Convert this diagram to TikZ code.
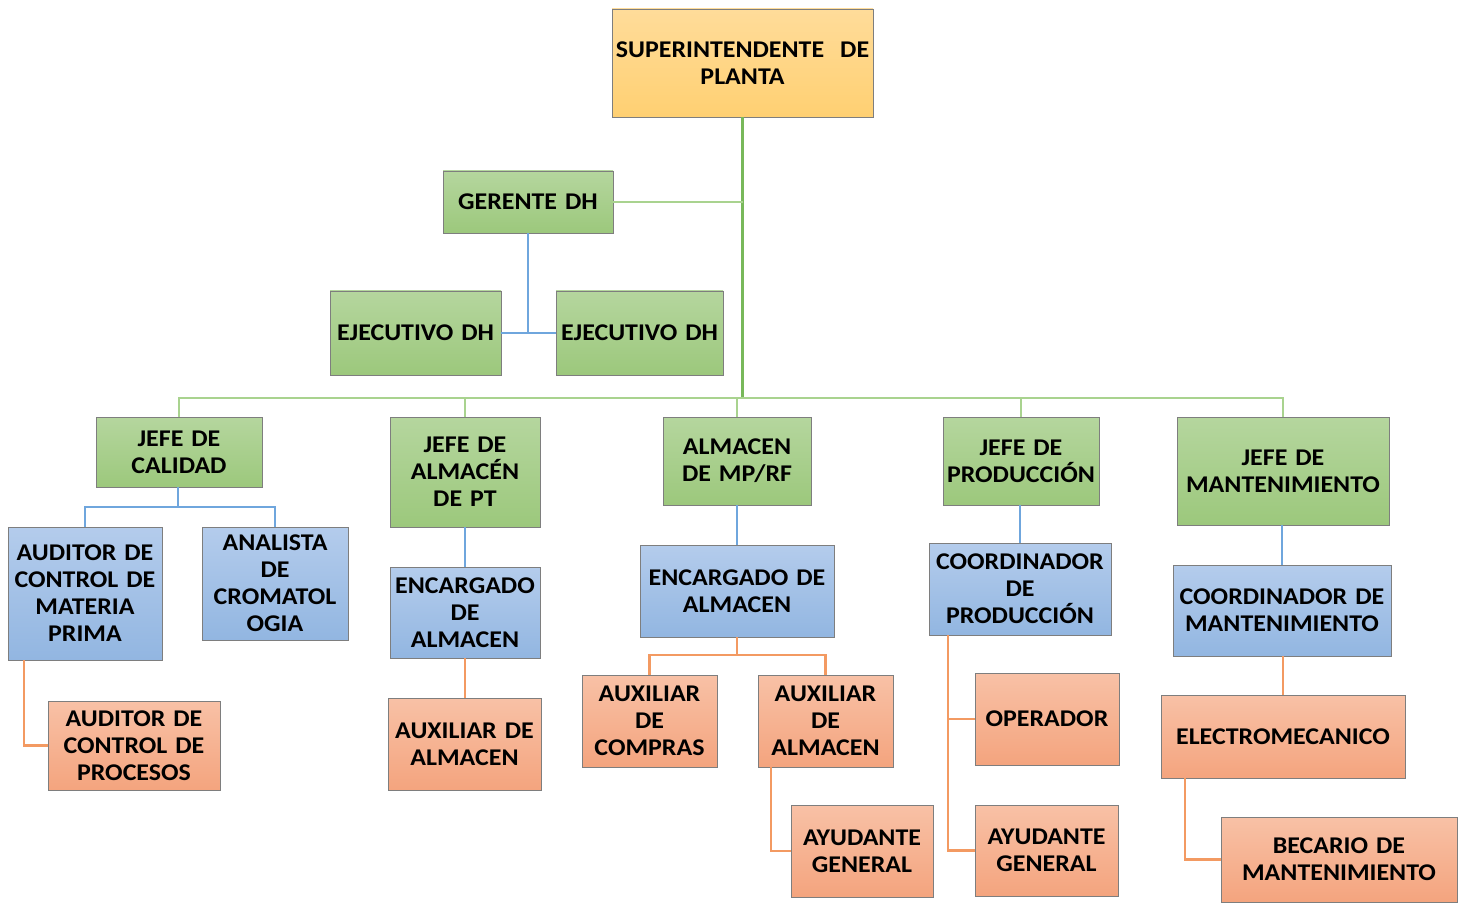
\documentclass[tikz,border=0pt]{standalone}
\usepackage{fontspec}
\setmainfont{Carlito}[FakeStretch=1.08]
\usetikzlibrary{shadows}

\definecolor{goldT}{HTML}{FFDC9A}
\definecolor{goldB}{HTML}{FFD072}
\definecolor{greenT}{HTML}{B5D69E}
\definecolor{greenB}{HTML}{9CC87C}
\definecolor{blueT}{HTML}{B4CCEC}
\definecolor{blueB}{HTML}{92B6E1}
\definecolor{orangeT}{HTML}{F8C1A6}
\definecolor{orangeB}{HTML}{F4A47E}
\definecolor{edge}{HTML}{7E7E7E}
\definecolor{lnGreen}{HTML}{78B85A}
\definecolor{lnGreenL}{HTML}{A9D38F}
\definecolor{lnBlue}{HTML}{6FA6DD}
\definecolor{lnOrange}{HTML}{F39A62}

\tikzset{
  orgbase/.style={draw=edge, line width=0.8pt, inner sep=0pt, align=center,
    font=\fontsize{24}{27}\selectfont\bfseries,
    drop shadow={shadow xshift=1.2pt, shadow yshift=-1.2pt, opacity=0.25, fill=black}},
  goldbox/.style={orgbase, top color=goldT, bottom color=goldB},
  greenbox/.style={orgbase, top color=greenT, bottom color=greenB},
  bluebox/.style={orgbase, top color=blueT, bottom color=blueB},
  orangebox/.style={orgbase, top color=orangeT, bottom color=orangeB},
  gline/.style={draw=lnGreen, line width=2.6pt},
  glineL/.style={draw=lnGreenL, line width=2.6pt},
  bline/.style={draw=lnBlue, line width=2.2pt},
  oline/.style={draw=lnOrange, line width=2.2pt},
}

% \orgbox{name}{style}{x1}{y1}{x2}{y2}{text}
\newcommand{\orgbox}[7]{%
  \pgfmathsetmacro{\obW}{#5-#3}%
  \pgfmathsetmacro{\obH}{#6-#4}%
  \pgfmathsetmacro{\obT}{#5-#3-2}%
  \node[#2, minimum width=\obW pt, minimum height=\obH pt, text width=\obT pt]
    (#1) at ({(#3+#5)/2},{(#4+#6)/2}) {#7};%
}

\begin{document}
\begin{tikzpicture}[x=1pt, y=-1pt]
\useasboundingbox (0,0) rectangle (1460,904);

% top levels
\orgbox{sup}{goldbox}{612}{9}{873}{117}{SUPERINTENDENTE\ \ DE\\PLANTA}
\orgbox{ger}{greenbox}{443}{171}{613}{233}{GERENTE DH}
\orgbox{ejl}{greenbox}{330}{291}{501}{375}{EJECUTIVO DH}
\orgbox{ejr}{greenbox}{556}{291}{723}{375}{EJECUTIVO DH}

% department heads
\orgbox{cal}{greenbox}{96}{417}{262}{487}{JEFE DE\\CALIDAD}
\orgbox{apt}{greenbox}{390}{417}{540}{527}{JEFE DE\\ALMACÉN\\DE PT}
\orgbox{amp}{greenbox}{663}{417}{811}{505}{ALMACEN\\DE MP/RF}
\orgbox{prd}{greenbox}{943}{417}{1099}{505}{JEFE DE\\PRODUCCIÓN}
\orgbox{mnt}{greenbox}{1177}{417}{1389}{525}{JEFE DE\\MANTENIMIENTO}

% second level
\orgbox{amat}{bluebox}{8}{527}{162}{660}{AUDITOR DE\\CONTROL DE\\MATERIA\\PRIMA}
\orgbox{ana}{bluebox}{202}{527}{348}{640}{ANALISTA\\DE\\CROMATOL\\OGIA}
\orgbox{ept}{bluebox}{390}{567}{540}{658}{ENCARGADO\\DE\\ALMACEN}
\orgbox{emp}{bluebox}{640}{545}{834}{637}{ENCARGADO DE\\ALMACEN}
\orgbox{cpr}{bluebox}{929}{543}{1111}{635}{COORDINADOR\\DE\\PRODUCCIÓN}
\orgbox{cmt}{bluebox}{1173}{565}{1391}{656}{COORDINADOR DE\\MANTENIMIENTO}

% third level
\orgbox{apro}{orangebox}{48}{701}{220}{790}{AUDITOR DE\\CONTROL DE\\PROCESOS}
\orgbox{xpt}{orangebox}{388}{698}{541}{790}{AUXILIAR DE\\ALMACEN}
\orgbox{xcom}{orangebox}{582}{675}{717}{767}{AUXILIAR\\DE\\COMPRAS}
\orgbox{xalm}{orangebox}{758}{675}{893}{767}{AUXILIAR\\DE\\ALMACEN}
\orgbox{ayu}{orangebox}{791}{805}{933}{897}{AYUDANTE\\GENERAL}
\orgbox{ope}{orangebox}{975}{673}{1119}{765}{OPERADOR}
\orgbox{ayd}{orangebox}{975}{805}{1118}{896}{AYUDANTE\\GENERAL}
\orgbox{ele}{orangebox}{1161}{695}{1405}{778}{ELECTROMECANICO}
\orgbox{bec}{orangebox}{1221}{817}{1457}{902}{BECARIO DE\\MANTENIMIENTO}

% junction points
\coordinate (bus) at (742,398);
\coordinate (calj) at (178,507);
\coordinate (mpj) at (737,655);

% green trunk and bus
\draw[gline] (sup.south) -- (sup.south |- bus);
\draw[glineL] (ger.east) -- (ger.east -| sup.south);
\draw[glineL] (cal.north) |- (bus) -| (mnt.north);
\draw[glineL] (apt.north) -- (apt.north |- bus);
\draw[glineL] (amp.north) -- (amp.north |- bus);
\draw[glineL] (prd.north) -- (prd.north |- bus);

% blue links
\draw[bline] (ger.south) -- (ger.south |- ejl.east);
\draw[bline] (ejl.east) -- (ejr.west);
\draw[bline] (calj |- cal.south) -- (calj);
\draw[bline] (amat.north) |- (calj) -| (ana.north);
\draw[bline] (ept.north |- apt.south) -- (ept.north);
\draw[bline] (emp.north |- amp.south) -- (emp.north);
\draw[bline] (cpr.north |- prd.south) -- (cpr.north);
\draw[bline] (cmt.north |- mnt.south) -- (cmt.north);

% orange links
\draw[oline] ([xshift=16pt]amat.south west) |- (apro.west);
\draw[oline] (ept.south) -- (ept.south |- xpt.north);
\draw[oline] (mpj |- emp.south) -- (mpj);
\draw[oline] (xcom.north) |- (mpj) -| (xalm.north);
\draw[oline] ([xshift=13pt]xalm.south west) |- (ayu.west);
\draw[oline] ([xshift=19pt]cpr.south west) |- (ope.west);
\draw[oline] ([xshift=19pt]cpr.south west) |- (ayd.west);
\draw[oline] (ele.north |- cmt.south) -- (ele.north);
\draw[oline] ([xshift=24pt]ele.south west) |- (bec.west);
\end{tikzpicture}
\end{document}
